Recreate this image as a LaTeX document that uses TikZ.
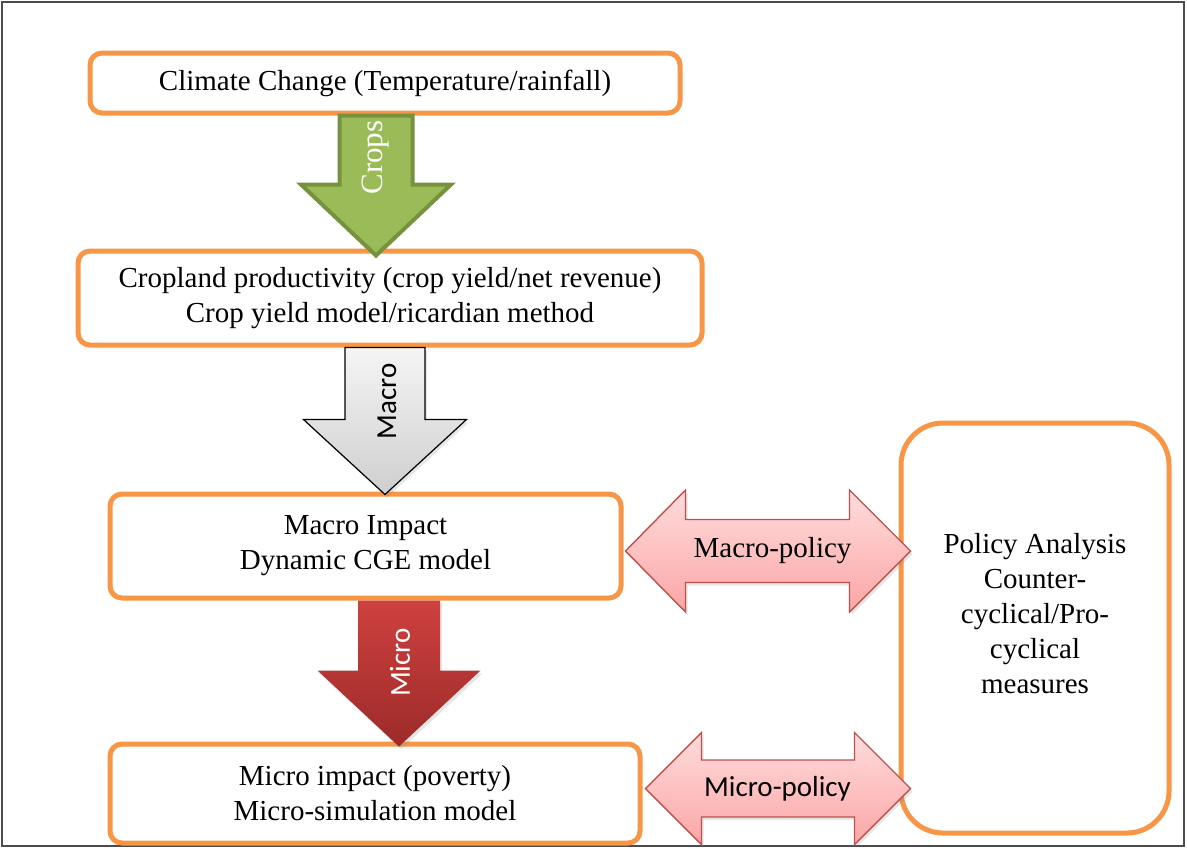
\documentclass[tikz,border=0pt]{standalone}
\usepackage{fontspec}
\setmainfont{Liberation Serif}
\newfontfamily\calibrifont{Carlito}
\usepackage{tikz}
\usetikzlibrary{positioning,shadows}

\definecolor{boxorange}{HTML}{F79646}
\definecolor{cropgreen}{HTML}{9BBB59}
\definecolor{cropedge}{HTML}{76923C}
\definecolor{microtop}{HTML}{CE413F}
\definecolor{microbot}{HTML}{9C2B29}
\definecolor{pinktop}{HTML}{FFDCDC}
\definecolor{pinkbot}{HTML}{FBA6A6}
\definecolor{pinkedge}{HTML}{C0504D}

\tikzset{
  box/.style={draw=boxorange, line width=2.5pt, rounded corners=6pt, fill=white,
    align=center, inner sep=0pt, font=\fontsize{14.5}{17.5}\selectfont},
  cropsarrow/.style={draw=cropedge, fill=cropgreen, line width=2pt, line join=miter},
  macroarrow/.style={draw=black, line width=0.6pt, top color=gray!8, bottom color=gray!38,
    drop shadow={shadow xshift=1pt, shadow yshift=-1.5pt, opacity=.2}},
  microarrow/.style={draw=none, top color=microtop, bottom color=microbot,
    drop shadow={shadow xshift=1pt, shadow yshift=-1.5pt, opacity=.2}},
  policyarrow/.style={draw=pinkedge, line width=0.7pt, top color=pinktop, bottom color=pinkbot,
    drop shadow={shadow xshift=1pt, shadow yshift=-1.5pt, opacity=.2}},
  arrowtext/.style={inner sep=0pt, font=\fontsize{14.5}{17.5}\selectfont}
}

\begin{document}
\begin{tikzpicture}[x=0.5pt, y=-0.5pt]
  \useasboundingbox (0,0) rectangle (1187,848);
  % frame
  \draw[gray!60!black, line width=0.8pt] (2,2) rectangle (1184,846);

  % boxes
  \node[box, minimum width=295pt, minimum height=30pt] (clim) at (385,83)
    {Climate Change (Temperature/rainfall)};
  \node[box, minimum width=312pt, minimum height=47pt] (crop) at (390,298)
    {Cropland productivity (crop yield/net revenue)\\Crop yield model/ricardian method};
  \node[box, minimum width=255.5pt, minimum height=52pt] (mimp) at (365.5,546)
    {Macro Impact\\Dynamic CGE model};
  \node[box, minimum width=265pt, minimum height=49.5pt] (micimp) at (375,793.5)
    {Micro impact (poverty)\\Micro-simulation model};
  \node[box, rounded corners=21pt, minimum width=134pt, minimum height=205pt, text depth=15pt] (pol) at (1035,628)
    {Policy Analysis\\Counter-\\cyclical/Pro-\\cyclical\\measures};

  % where the down arrows sit
  \coordinate (cropsx) at (376,0);
  \coordinate (macrox) at (385,0);
  \coordinate (microx) at (399,0);
  % where the side arrows start
  \coordinate[xshift=1pt, yshift=-2.5pt] (macpol) at (mimp.east);
  \coordinate[xshift=1.5pt, yshift=2.5pt] (micpol) at (micimp.east);

  % Crops
  \begin{scope}[shift={(cropsx |- clim.south)}]
    \draw[cropsarrow] (-36.5,0) -- (36.5,0) -- (36.5,69) -- (75,69) -- (0,140)
      -- (-75,69) -- (-36.5,69) -- cycle;
    \node[arrowtext, rotate=90, text=white, font=\fontsize{15.5}{18}\selectfont] (cropslab) at (0,42) {Crops};
  \end{scope}

  % Macro
  \begin{scope}[shift={(macrox |- crop.south)}]
    \draw[macroarrow] (-40,0) -- (40,0) -- (40,72) -- (81.5,72) -- (0,147)
      -- (-81.5,72) -- (-40,72) -- cycle;
    \node[arrowtext, rotate=90, font=\calibrifont\fontsize{14.5}{17.5}\selectfont] (macrolab) at (2,54) {Macro};
  \end{scope}

  % Micro
  \begin{scope}[shift={(microx |- mimp.south)}]
    \draw[microarrow] (-41,0) -- (41,0) -- (41,70) -- (81.5,70) -- (0,146)
      -- (-81.5,70) -- (-41,70) -- cycle;
    \node[arrowtext, rotate=90, text=white, font=\calibrifont\fontsize{14.5}{17.5}\selectfont] (microlab) at (1,62) {Micro};
  \end{scope}

  % Macro-policy
  \begin{scope}[shift={(macpol)}]
    \draw[policyarrow] (0,0) -- (60,-61) -- (60,-31.5) -- (224,-31.5) -- (224,-61) -- (285,0)
      -- (224,61) -- (224,31.5) -- (60,31.5) -- (60,61) -- cycle;
    \node[arrowtext] (macpollab) at (147,0) {Macro-policy};
  \end{scope}

  % Micro-policy
  \begin{scope}[shift={(micpol)}]
    \draw[policyarrow] (0,0) -- (56,-56) -- (56,-28.5) -- (209,-28.5) -- (209,-56) -- (265,0)
      -- (209,56) -- (209,28.5) -- (56,28.5) -- (56,56) -- cycle;
    \node[arrowtext, font=\calibrifont\fontsize{14.5}{17.5}\selectfont] (micpollab) at (132,0) {Micro-policy};
  \end{scope}
\end{tikzpicture}
\end{document}
